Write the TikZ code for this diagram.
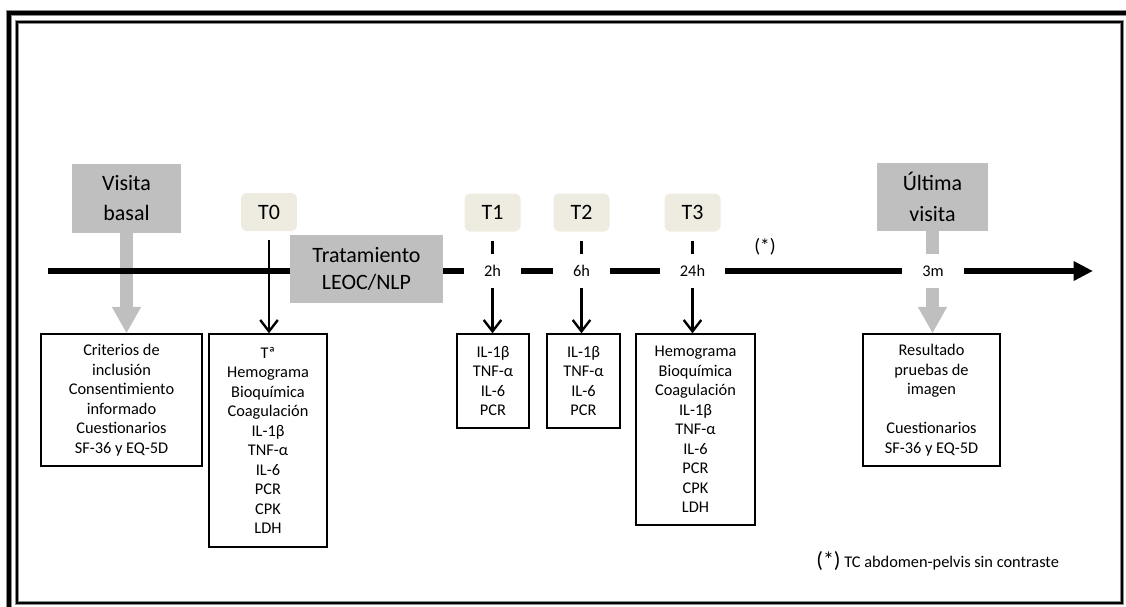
\documentclass[tikz,border=0pt]{standalone}
\usepackage{fontspec}
\setmainfont{Carlito}
\usepackage{xcolor}
\usepackage{tikz}
\usetikzlibrary{arrows.meta, positioning, backgrounds}
\definecolor{boxgray}{RGB}{191,191,191}
\definecolor{tbeige}{RGB}{238,236,225}
\definecolor{framegray}{RGB}{140,140,140}

\begin{document}
\begin{tikzpicture}[x=0.02cm, y=-0.02cm,
    visit/.style={rectangle, fill=boxgray, align=center, inner sep=0pt,
                  font=\fontsize{12.5}{17.5}\selectfont,
                  minimum width=2.2cm, minimum height=1.38cm},
    tlabel/.style={rectangle, rounded corners=3pt, fill=tbeige, inner sep=0pt,
                   font=\fontsize{12.5}{15}\selectfont,
                   minimum width=1.12cm, minimum height=0.76cm},
    hourlbl/.style={rectangle, fill=white, inner xsep=0.4cm, inner ysep=0pt,
                    minimum height=0.68cm, font=\fontsize{9.3}{11}\selectfont},
    listbox/.style={rectangle, draw=black, line width=0.8pt, fill=white,
                    align=center, inner sep=0pt,
                    font=\fontsize{9.3}{11.1}\selectfont},
    timeline/.style={-{Triangle[length=11pt, width=10.5pt]}, line width=3.4pt},
    blackarrow/.style={-{Straight Barb[length=6.5pt, width=10pt]}, line width=1.35pt,
                       shorten <=0.18cm},
    grayarrow/.style={-{Triangle[length=15pt, width=15.5pt]}, boxgray, line width=7.4pt}
  ]
    \useasboundingbox (0,0) rectangle (1126,606);
    \draw[framegray, line width=3.4pt] (9,13) rectangle (1134,614);
    \draw[black, line width=1.8pt] (9,13) rectangle (1134,614);
    \draw[framegray, line width=2.2pt] (17,22) rectangle (1122,603);
    \draw[black, line width=1.1pt] (17,22) rectangle (1122,603);

    \coordinate (tstart) at (48,271);
    \coordinate (tend) at (1093,271);

    \node[visit] at (126.5,198) (visita) {Visita\\basal};
    \node[visit, minimum width=2.22cm, minimum height=1.36cm] at (932.5,197) (ultima)
      {Última\\visita};
    \node[visit, font=\fontsize{12.5}{15.4}\selectfont, minimum width=3.06cm,
          minimum height=1.36cm] at (366.5,269) (trat) {Tratamiento\\LEOC/NLP};

    \node[tlabel] at (269,212) (t0) {T0};
    \node[tlabel] at (492.5,212.5) (t1) {T1};
    \node[tlabel] at (581.5,212.5) (t2) {T2};
    \node[tlabel] at (692.5,212.5) (t3) {T3};

    \node[hourlbl] at (492.5,271) (h2) {2h};
    \node[hourlbl] at (581.5,271) (h6) {6h};
    \node[hourlbl] at (692.5,271) (h24) {24h};
    \node[hourlbl] at (933,271) (m3) {3m};
    \node[font=\fontsize{11}{13}\selectfont] at (765,247) (star) {(*)};

    \node[listbox, minimum width=3.22cm, minimum height=2.64cm] at (121.5,400) (crit)
      {Criterios de\\inclusión\\Consentimiento\\informado\\Cuestionarios\\SF-36 y EQ-5D};
    \node[listbox, minimum width=2.36cm, minimum height=4.26cm] at (268,440.5) (b0)
      {Tª\\Hemograma\\Bioquímica\\Coagulación\\IL-1β\\TNF-α\\IL-6\\PCR\\CPK\\LDH};
    \node[listbox, minimum width=1.44cm, minimum height=1.88cm] at (493,381) (b1)
      {IL-1β\\TNF-α\\IL-6\\PCR};
    \node[listbox, minimum width=1.46cm, minimum height=1.88cm] at (583.5,381) (b2)
      {IL-1β\\TNF-α\\IL-6\\PCR};
    \node[listbox, minimum width=2.38cm, minimum height=3.82cm] at (695.5,429.5) (b3)
      {Hemograma\\Bioquímica\\Coagulación\\IL-1β\\TNF-α\\IL-6\\PCR\\CPK\\LDH};
    \node[listbox, minimum width=2.74cm, minimum height=2.64cm] at (931.5,400) (res)
      {Resultado\\pruebas de\\imagen\\[11.1pt]Cuestionarios\\SF-36 y EQ-5D};

    \node[anchor=west, inner sep=0pt, font=\fontsize{9.3}{11}\selectfont] at (816,561) (note)
      {{\fontsize{12.5}{15}\selectfont(*)} TC abdomen-pelvis sin contraste};

    \begin{scope}[on background layer]
      \draw[grayarrow] (visita.south) -- (visita.south |- crit.north);
      \draw[grayarrow] (ultima.south) -- (ultima.south |- res.north);
      \draw[timeline] (tstart) -- (tend);
      \draw[blackarrow] (t0) -- (t0 |- b0.north);
      \draw[blackarrow] (t1) -- (t1 |- b1.north);
      \draw[blackarrow] (t2) -- (t2 |- b2.north);
      \draw[blackarrow] (t3) -- (t3 |- b3.north);
    \end{scope}
  \end{tikzpicture}
\end{document}
